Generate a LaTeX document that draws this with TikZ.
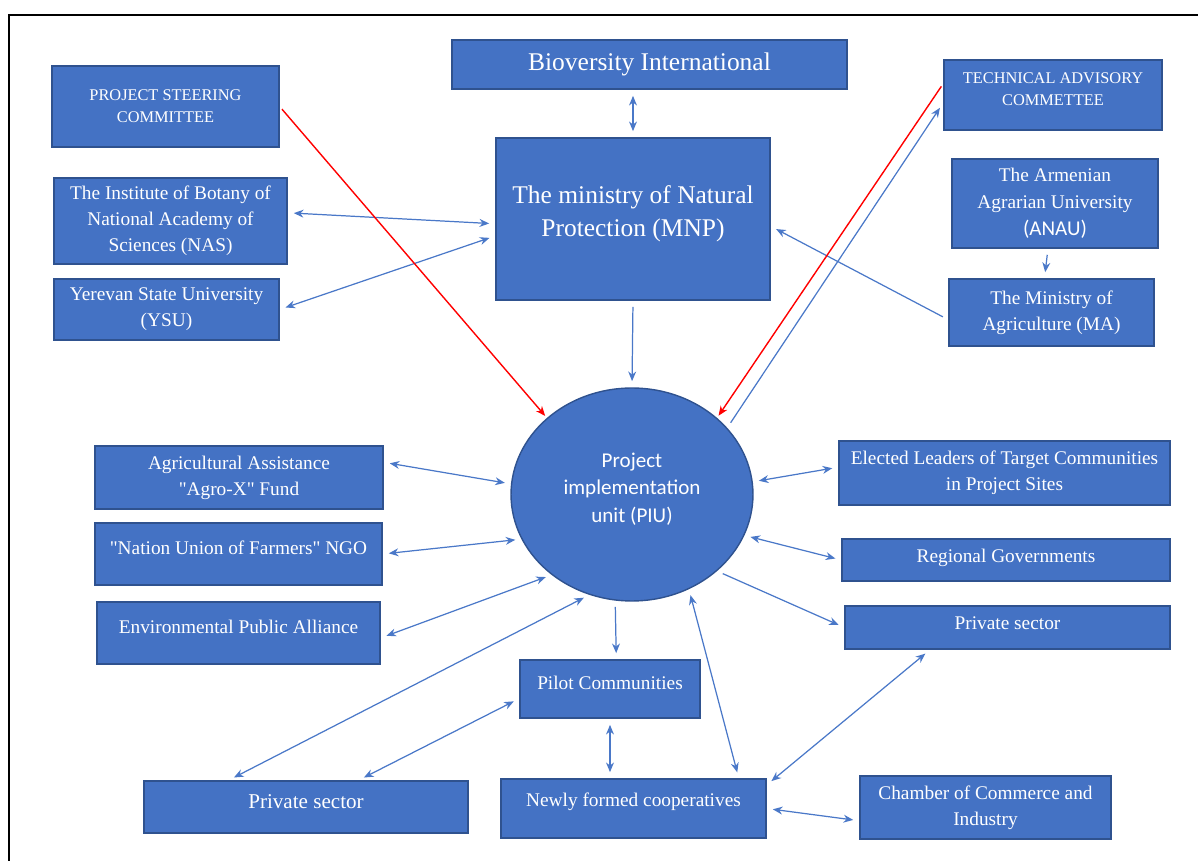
\documentclass[tikz,border=0pt]{standalone}
\usepackage{fontspec}
\setmainfont{Liberation Serif}
\newfontfamily\calibri{Carlito}
\usetikzlibrary{shapes.geometric,arrows.meta}

\definecolor{boxblue}{HTML}{4472C4}
\definecolor{boxedge}{HTML}{2F528F}
\definecolor{linkblue}{HTML}{4A78C8}

\tikzset{
  unit/.style={draw=boxedge, fill=boxblue, line width=0.8pt, text=white,
    align=center, inner sep=2pt, font=\fontsize{11}{14.7}\selectfont},
  capsunit/.style={unit, font=\fontsize{9.3}{12.6}\selectfont},
  lift/.style={text depth=#1},
  link/.style={draw=linkblue, line width=0.7pt, shorten >=3.5pt, shorten <=3.5pt},
  alert/.style={draw=red, line width=0.8pt, shorten >=1.5pt, shorten <=2pt}
}

\begin{document}
\begin{tikzpicture}[x=0.02cm, y=-0.02cm, >={Stealth[length=5.5pt,width=4.5pt]}]
  \useasboundingbox (0,0) rectangle (1198,861);
  \draw[line width=0.8pt] (9,861) -- (9,15) -- (1198,15);

  % top row
  \node[unit, minimum width=7.9cm, minimum height=0.98cm,
        font=\fontsize{14.5}{18.7}\selectfont] (bio) at (649.5,64.5) {Bioversity International};
  \node[unit, minimum width=5.48cm, minimum height=3.24cm, lift=9pt,
        font=\fontsize{14.5}{18.7}\selectfont] (mnp) at (633,219) {The ministry of Natural\\Protection (MNP)};

  % left column
  \node[capsunit, minimum width=4.54cm, minimum height=1.62cm] (psc) at (165.5,106.5) {PROJECT STEERING\\COMMITTEE};
  \node[unit, minimum width=4.66cm, minimum height=1.72cm] (nas) at (170.5,221) {The Institute of Botany of\\National Academy of\\Sciences (NAS)};
  \node[unit, minimum width=4.5cm, minimum height=1.22cm] (ysu) at (166.5,309.5) {Yerevan State University\\(YSU)};

  % right column
  \node[capsunit, minimum width=4.36cm, minimum height=1.4cm, lift=7pt] (tac) at (1053,95) {TECHNICAL ADVISORY\\COMMETTEE};
  \node[unit, minimum width=4.12cm, minimum height=1.78cm,
        font=\fontsize{11}{15.3}\selectfont] (anau) at (1055,203.5) {The Armenian\\Agrarian University\\{\calibri\fontsize{12}{15.3}\selectfont (ANAU)}};
  \node[unit, minimum width=4.1cm, minimum height=1.34cm] (ma) at (1051.5,312.5) {The Ministry of\\Agriculture (MA)};

  % centre
  \node[ellipse, draw=boxedge, fill=boxblue, line width=0.8pt, text=white, align=center,
        inner sep=0pt, minimum width=4.84cm, minimum height=4.26cm, lift=8pt,
        font=\calibri\fontsize{12}{15.6}\selectfont] (piu) at (632,494.5) {Project\\implementation\\unit (PIU)};

  % partners left
  \node[unit, minimum width=5.76cm, minimum height=1.26cm] (agro) at (239,477.5) {Agricultural Assistance\\\textquotedbl Agro-X\textquotedbl{} Fund};
  \node[unit, minimum width=5.74cm, minimum height=1.24cm, lift=7pt] (nuf) at (238.5,554) {\textquotedbl Nation Union of Farmers\textquotedbl{} NGO};
  \node[unit, minimum width=5.66cm, minimum height=1.24cm, lift=7pt] (epa) at (238.5,633) {Environmental Public Alliance};

  % partners right
  \node[unit, minimum width=6.62cm, minimum height=1.28cm] (elect) at (1004.5,473) {Elected Leaders of Target Communities\\in Project Sites};
  \node[unit, minimum width=6.56cm, minimum height=0.84cm, lift=5pt] (reg) at (1006,560) {Regional Governments};
  \node[unit, minimum width=6.5cm, minimum height=0.86cm, lift=5pt] (privr) at (1007.5,627.5) {Private sector};

  % bottom
  \node[unit, minimum width=3.6cm, minimum height=1.16cm, lift=7pt] (pilot) at (610,689) {Pilot Communities};
  \node[unit, minimum width=6.48cm, minimum height=1.04cm, lift=6pt,
        font=\fontsize{12}{14.7}\selectfont] (privl) at (306,807) {Private sector};
  \node[unit, minimum width=5.3cm, minimum height=1.18cm, lift=10pt] (newly) at (633.5,808.5) {Newly formed cooperatives};
  \node[unit, minimum width=5.02cm, minimum height=1.26cm] (chamber) at (985.5,807.5) {Chamber of Commerce and\\Industry};

  % links to the ministry
  \draw[link,<->] (mnp.north |- bio.south) -- (mnp.north);
  \draw[link,<->] (nas.4) -- (mnp.182);
  \draw[link,<->] (ysu.east) -- (mnp.187);
  \draw[link,->] (ma.184) -- (mnp.-3);
  \draw[link,->] ([xshift=-4pt]anau.south) -- ([xshift=-4pt]ma.north);
  \draw[link,->] (mnp.south) -- (piu.north);

  % committees
  \draw[alert,->] (psc.east) -- (piu.138);
  \draw[alert,->] (tac.174) -- (piu.42);
  \draw[link,->] (piu.35) -- (tac.184);

  % links to the PIU
  \draw[link,<->] (agro.6) -- (piu.175);
  \draw[link,<->] (nuf.east) -- (piu.202);
  \draw[link,<->] (epa.-2) -- (piu.225);
  \draw[link,<->] (privl.161) -- (piu.247);
  \draw[link,<->] (piu.6) -- (elect.178);
  \draw[link,<->] (piu.-20) -- (reg.west);
  \draw[link,->] (piu.-42) -- (privr.west);
  \draw[link,->] (piu.261) -- (pilot.78);
  \draw[link,<->] (piu.-59) -- (newly.16);

  % bottom links
  \draw[link,<->] (privl.27) -- (pilot.186);
  \draw[link,<->] (pilot.south) -- (pilot.south |- newly.north);
  \draw[link,<->] (privr.196) -- (newly.10);
  \draw[link,<->] (newly.east) -- (chamber.186);
\end{tikzpicture}
\end{document}
